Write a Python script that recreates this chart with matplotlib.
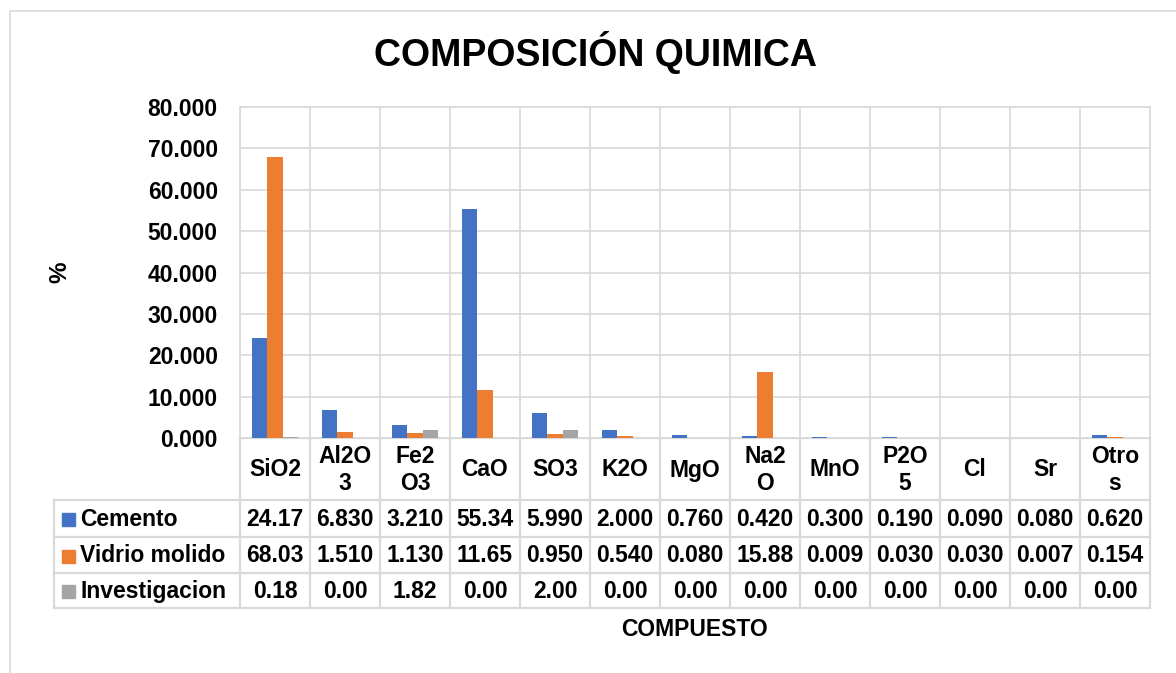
import numpy as np
import matplotlib
matplotlib.use("Agg")
import matplotlib.pyplot as plt
from matplotlib.patches import Rectangle

plt.rcParams['font.family'] = ['Liberation Sans', 'DejaVu Sans']
plt.rcParams['font.weight'] = 'bold'

# data
compuestos = ["SiO2", "Al2O\n3", "Fe2\nO3", "CaO", "SO3", "K2O", "MgO",
              "Na2\nO", "MnO", "P2O\n5", "Cl", "Sr", "Otro\ns"]
cemento = [24.17, 6.830, 3.210, 55.34, 5.990, 2.000, 0.760, 0.420, 0.300, 0.190, 0.090, 0.080, 0.620]
vidrio = [68.03, 1.510, 1.130, 11.65, 0.950, 0.540, 0.080, 15.88, 0.009, 0.030, 0.030, 0.007, 0.154]
investigacion = [0.18, 0.00, 1.82, 0.00, 2.00, 0.00, 0.00, 0.00, 0.00, 0.00, 0.00, 0.00, 0.00]
series_names = ["Cemento", "Vidrio molido", "Investigacion"]
colors = ["#4472c4", "#ed7d31", "#a5a5a5"]
yticks = [0, 10, 20, 30, 40, 50, 60, 70, 80]

def fmt_excel(v):
    # looks like ~4 significant digits in the data table
    return f"{v:.2f}" if v >= 10 else f"{v:.3f}"

row_labels = [
    [fmt_excel(v) for v in cemento],
    [fmt_excel(v) for v in vidrio],
    [f"{v:.2f}" for v in investigacion],
]

W, H = 1176, 673
fig = plt.figure(figsize=(W / 100, H / 100), dpi=100)

# layout in pixels
left, right, top, bottom = 240, 1150, 107, 438
leg_left = 54
row_edges = [438, 500, 537, 573, 608]
grid_c = "#d9d9d9"
fs = 16.5

ax = fig.add_axes([left / W, 1 - bottom / H, (right - left) / W, (bottom - top) / H])
n = len(compuestos)
x = np.arange(n)
bw = 1 / 4.5
for k, vals in enumerate([cemento, vidrio, investigacion]):
    ax.bar(x + (k - 1) * bw, vals, width=bw, color=colors[k], zorder=3)

ax.set_xlim(-0.5, n - 0.5)
ax.set_ylim(0, 80)
ax.set_yticks(yticks)
ax.set_yticklabels([f"{v:.3f}" for v in yticks], fontsize=fs, fontweight='bold')
ax.set_xticks(np.arange(n + 1) - 0.5)
ax.set_xticklabels([])
ax.tick_params(length=0, pad=16)
ax.grid(True, color=grid_c, linewidth=1.2, zorder=0)
for s in ax.spines.values():
    s.set_color(grid_c)
    s.set_linewidth(1.2)

# overlay in pixel coordinates for the data table and texts
ov = fig.add_axes([0, 0, 1, 1], zorder=-1)
ov.set_xlim(0, W)
ov.set_ylim(H, 0)
ov.axis('off')
ov.add_patch(Rectangle((9.5, 10.5), W + 50, H + 50, fill=False, edgecolor=grid_c, linewidth=1.2))

colw = (right - left) / n
lw = 1.6
# horizontal lines
ov.plot([left, right], [row_edges[0]] * 2, color=grid_c, lw=lw)
for yy in row_edges[1:]:
    ov.plot([leg_left, right], [yy, yy], color=grid_c, lw=lw)
# vertical lines
ov.plot([leg_left, leg_left], [row_edges[1], row_edges[-1]], color=grid_c, lw=lw)
for i in range(n + 1):
    xx = left + i * colw
    ov.plot([xx, xx], [row_edges[0], row_edges[-1]], color=grid_c, lw=lw)

# header
for i, c in enumerate(compuestos):
    ov.text(left + (i + 0.5) * colw, (row_edges[0] + row_edges[1]) / 2 + 1, c,
            ha='center', va='center', fontsize=fs, fontweight='bold', linespacing=1.25)

# rows
for r in range(3):
    yc = (row_edges[r + 1] + row_edges[r + 2]) / 2 + 1
    ov.add_patch(Rectangle((62, yc - 6.5), 13, 13, color=colors[r]))
    ov.text(80, yc, series_names[r], ha='left', va='center', fontsize=fs, fontweight='bold')
    for i in range(n):
        ov.text(left + (i + 0.5) * colw, yc, row_labels[r][i], ha='center', va='center',
                fontsize=fs, fontweight='bold')

ov.text(595, 53, "COMPOSICIÓN QUIMICA", ha='center', va='center', fontsize=27, fontweight='bold')
ov.text(60, (top + bottom) / 2, "%", ha='center', va='center', rotation=90, fontsize=fs + 1, fontweight='bold')
ov.text((left + right) / 2, 630, "COMPUESTO", ha='center', va='center', fontsize=fs, fontweight='bold')

fig.savefig("out.png", dpi=100)
